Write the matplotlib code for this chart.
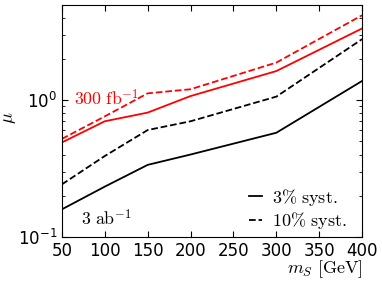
import matplotlib
matplotlib.use("Agg")
from matplotlib import pyplot as plt
from matplotlib.font_manager import FontProperties

# signal masses (GeV)
m_s = [50, 100, 150, 200, 300, 400]

# 300 fb^-1
mu_300_3pct = [0.49, 0.70, 0.81, 1.07, 1.63, 3.34]
mu_300_10pct = [0.52, 0.76, 1.12, 1.20, 1.88, 4.17]

# 3 ab^-1
mu_3000_3pct = [0.159, 0.233, 0.336, 0.40, 0.577, 1.38]
mu_3000_10pct = [0.242, 0.39, 0.604, 0.70, 1.06, 2.79]

x_ticks = [50, 100, 150, 200, 250, 300, 350, 400]

fig = plt.figure(figsize=(3.82, 2.81), dpi=100)
ax = fig.add_axes([0.162, 0.157, 0.786, 0.825])

ax.plot(m_s, mu_300_3pct, color="red", lw=1.3, ls="-")
ax.plot(m_s, mu_300_10pct, color="red", lw=1.3, ls="--")
ax.plot(m_s, mu_3000_3pct, color="black", lw=1.3, ls="-",
        label=r"$\mathrm{3\%\ syst.}$")
ax.plot(m_s, mu_3000_10pct, color="black", lw=1.3, ls="--",
        label=r"$\mathrm{10\%\ syst.}$")

ax.set_yscale("log")
ax.set_xlim(50, 400)
ax.set_ylim(0.1, 4.95)
ax.set_xticks(x_ticks)
ax.tick_params(which="both", direction="in", top=True, right=True, labelsize=12)
ax.tick_params(which="major", length=4)
ax.tick_params(which="minor", length=2)

ax.text(64, 0.92, r"$\mathrm{300\ fb^{-1}}$", color="red", fontsize=12.8,
        math_fontfamily="cm")
ax.text(72, 0.122, r"$\mathrm{3\ ab^{-1}}$", color="black", fontsize=12.8,
        math_fontfamily="cm")

leg_font = FontProperties(size=13, math_fontfamily="cm")
ax.legend(loc="lower right", bbox_to_anchor=(0.965, 0.005), frameon=False,
          handlelength=0.7, handletextpad=0.6, borderaxespad=0.0,
          borderpad=0.25, labelspacing=0.15, prop=leg_font)

ax.set_xlabel(r"$m_S\ [\mathrm{GeV}]$", fontsize=13, math_fontfamily="cm")
ax.xaxis.set_label_coords(1.0, -0.092)
ax.xaxis.label.set_ha("right")
ax.set_ylabel(r"$\mu$", fontsize=13, math_fontfamily="cm")
ax.yaxis.set_label_coords(-0.147, 0.513)

fig.savefig("out.png", dpi=100)
